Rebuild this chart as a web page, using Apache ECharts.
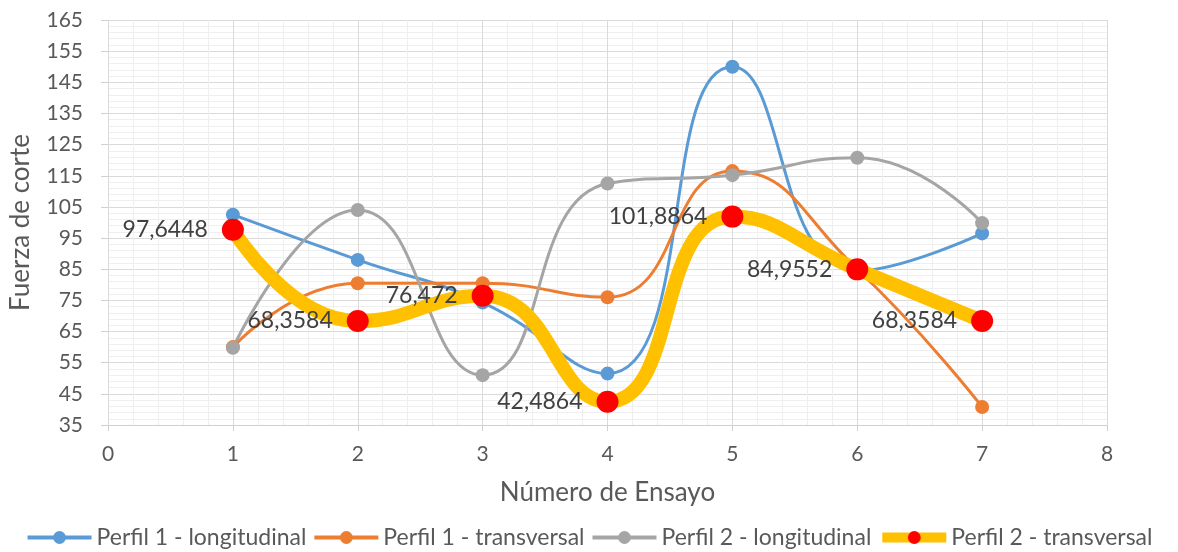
<!DOCTYPE html>
<html><head><meta charset="utf-8">
<script src="https://cdn.jsdelivr.net/npm/echarts@6/dist/echarts.min.js"></script>
<style>html,body{margin:0;padding:0;background:#fff}#c{width:1178px;height:552px}</style>
</head><body><div id="c"></div>
<script>
var ensayos = [1, 2, 3, 4, 5, 6, 7];
var seriesNames = ['Perfil 1 - longitudinal', 'Perfil 1 - transversal', 'Perfil 2 - longitudinal', 'Perfil 2 - transversal'];
var perfil1Long = [102.5, 88, 74.3, 51.5, 150, 84.5, 96.5];
var perfil1Trans = [60, 80.5, 80.5, 76, 116.5, 85, 40.8];
var perfil2Long = [59.8, 104, 51, 112.5, 115.2, 120.8, 99.8];
var perfil2Trans = [97.6448, 68.3584, 76.472, 42.4864, 101.8864, 84.9552, 68.3584];
var yLabels = [35, 45, 55, 65, 75, 85, 95, 105, 115, 125, 135, 145, 155, 165];

function pairs(arr){ return ensayos.map(function(x,i){ return [x, arr[i]]; }); }
var FONT = 'Lato';
var chart = echarts.init(document.getElementById('c'));
var smoothF = 0.5;
chart.setOption({
  animation: false,
  backgroundColor: '#fff',
  textStyle: {fontFamily: FONT},
  grid: {left: 107, right: 71, top: 20, bottom: 127, containLabel: false},
  legend: {
    bottom: 3, left: 'center', padding: 0, itemWidth: 64, itemHeight: 16, itemGap: 6,
    textStyle: {fontFamily: FONT, fontSize: 23, color: '#595959'},
    data: [
      {name: seriesNames[0], lineStyle: {width: 4}},
      {name: seriesNames[1], lineStyle: {width: 4}},
      {name: seriesNames[2], lineStyle: {width: 4}},
      {name: seriesNames[3], lineStyle: {width: 10}}
    ]
  },
  xAxis: {
    type: 'value', min: 0, max: 8, interval: 1,
    name: 'Número de Ensayo', nameLocation: 'middle', nameGap: 55,
    nameTextStyle: {fontFamily: FONT, fontSize: 26, color: '#595959'},
    axisLine: {show: true, lineStyle: {color: '#d0d0d0', width: 1}},
    axisTick: {show: true, length: 6, lineStyle: {color: '#d0d0d0'}},
    axisLabel: {margin: 19, fontFamily: FONT, fontSize: 21, color: '#595959'},
    splitLine: {show: true, lineStyle: {color: '#dadada', width: 1}},
    minorTick: {show: false, splitNumber: 5},
    minorSplitLine: {show: true, lineStyle: {color: '#efefef', width: 1}}
  },
  yAxis: [{
    type: 'value', min: 35, max: 165, interval: 5,
    name: 'Fuerza de corte', nameLocation: 'middle', nameGap: 74,
    nameTextStyle: {fontFamily: FONT, fontSize: 26, color: '#595959'},
    axisLine: {show: false},
    axisTick: {show: false},
    axisLabel: {margin: 25, fontFamily: FONT, fontSize: 21, color: '#595959',
      formatter: function(v){ return yLabels.indexOf(v) >= 0 ? String(v) : ''; }},
    splitLine: {show: false}
  }, {
    type: 'value', min: 0, max: 130, interval: 10, position: 'left', offset: 0,
    axisLine: {show: false},
    axisTick: {show: true, inside: false, length: 7, lineStyle: {color: '#d0d0d0'}},
    axisLabel: {show: false},
    splitLine: {show: true, lineStyle: {color: '#dadada', width: 1}},
    minorTick: {show: false, splitNumber: 5},
    minorSplitLine: {show: true, lineStyle: {color: '#efefef', width: 1}}
  }],
  series: [{
    name: seriesNames[0], type: 'line', data: pairs(perfil1Long), smooth: smoothF,
    symbol: 'circle', symbolSize: 14, color: '#5B9BD5',
    lineStyle: {width: 3, color: '#5B9BD5'}, itemStyle: {color: '#5B9BD5'}
  }, {
    name: seriesNames[1], type: 'line', data: pairs(perfil1Trans), smooth: smoothF,
    symbol: 'circle', symbolSize: 14, color: '#ED7D31',
    lineStyle: {width: 3, color: '#ED7D31'}, itemStyle: {color: '#ED7D31'}
  }, {
    name: seriesNames[2], type: 'line', data: pairs(perfil2Long), smooth: smoothF,
    symbol: 'circle', symbolSize: 14, color: '#A5A5A5',
    lineStyle: {width: 3, color: '#A5A5A5'}, itemStyle: {color: '#A5A5A5'}
  }, {
    name: seriesNames[3], type: 'line', data: pairs(perfil2Trans), smooth: smoothF,
    symbol: 'circle', symbolSize: 22, color: '#FFC000',
    lineStyle: {width: 14, color: '#FFC000'}, itemStyle: {color: '#FF0000'},
    label: {show: true, position: 'left', distance: 14, fontFamily: FONT, fontSize: 23, color: '#404040',
      formatter: function(p){ return String(p.value[1]).replace('.', ','); }}
  }]
});
</script></body></html>
